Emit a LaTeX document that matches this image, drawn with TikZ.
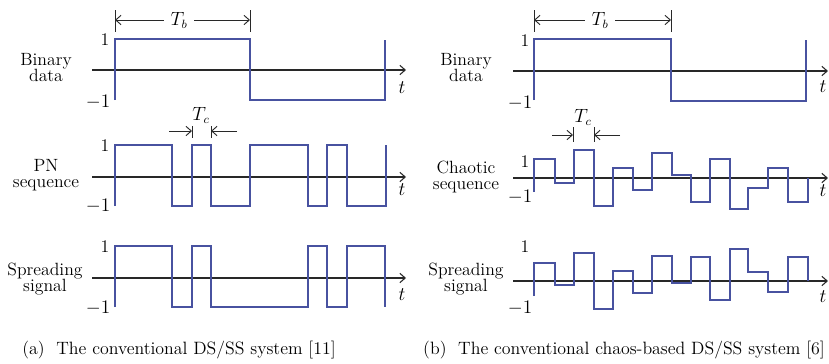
\documentclass[tikz,border=0pt]{standalone}
\usetikzlibrary{arrows.meta}
\definecolor{sigcol}{RGB}{72,82,160}
\definecolor{axcol}{RGB}{40,40,40}
\begin{document}
\begin{tikzpicture}[x=0.75pt,y=-0.75pt,
  axis/.style={draw=axcol,line width=0.8pt,-{Straight Barb[length=4pt,width=7pt]}},
  sig/.style={draw=sigcol,line width=0.9pt,line join=miter},
  dim/.style={draw=axcol,line width=0.7pt,-{Straight Barb[length=4pt,width=7pt]}},
  tickmark/.style={draw=axcol,line width=0.7pt},
  lab/.style={font=\fontsize{13.3}{12}\selectfont,align=center,inner sep=0pt},
  lvl/.style={font=\fontsize{13.3}{12}\selectfont,inner sep=0pt},
  tlab/.style={font=\fontsize{13.3}{12}\selectfont,inner sep=0pt},
  captxt/.style={font=\fontsize{13.4}{12}\selectfont,inner sep=0pt}]
\useasboundingbox (0,0) rectangle (829,364);

% ---------------- left panel ----------------
\coordinate (aL1s) at (92,70);  \coordinate (aL1e) at (406,70);
\coordinate (aL2s) at (92,177); \coordinate (aL2e) at (406,177);
\coordinate (aL3s) at (92,278); \coordinate (aL3e) at (406,278);
\draw[axis] (aL1s) -- (aL1e);
\draw[axis] (aL2s) -- (aL2e);
\draw[axis] (aL3s) -- (aL3e);
\node[tlab] (tL1) at (402,88) {$t$};
\node[tlab] (tL2) at (402,190) {$t$};
\node[tlab] (tL3) at (402,295) {$t$};

\node[lab] (bdL) at (46,68) {Binary\\data};
\node[lab] (pnL) at (46,175) {PN\\sequence};
\node[lab] (spL) at (45,279) {Spreading\\signal};

\node[lvl] (oneL1) at (105,40) {1};
\node[lvl] (mL1) at (98,102) {$-1$};
\node[lvl] (oneL2) at (105,146) {1};
\node[lvl] (mL2) at (98,206) {$-1$};
\node[lvl] (oneL3) at (105,247) {1};
\node[lvl] (mL3) at (98,308) {$-1$};

\draw[sig] (115,100) -- (115,39) -- (250,39) -- (250,100) -- (385,100) -- (385,40);
\draw[sig] (115,206) -- (115,145) -- (172,145) -- (172,206) -- (192,206) -- (192,145)
  -- (211,145) -- (211,206) -- (250,206) -- (250,145) -- (308,145) -- (308,206)
  -- (327,206) -- (327,145) -- (347,145) -- (347,206) -- (386,206) -- (386,145);
\draw[sig] (115,307) -- (115,246) -- (172,246) -- (172,307) -- (192,307) -- (192,246)
  -- (211,246) -- (211,307) -- (308,307) -- (308,246) -- (327,246) -- (327,307)
  -- (347,307) -- (347,246) -- (385,246) -- (385,307);

\coordinate (tbL1t) at (115,10); \coordinate (tbL1b) at (115,32);
\coordinate (tbL2t) at (250,10); \coordinate (tbL2b) at (250,32);
\draw[tickmark] (tbL1t) -- (tbL1b);
\draw[tickmark] (tbL2t) -- (tbL2b);
\node[tlab,inner xsep=5pt] (TbL) at (179,20) {$T_b$};
\coordinate (tbLa) at (115,20); \coordinate (tbLb) at (250,20);
\draw[dim] (TbL.west) -- (tbLa);
\draw[dim] (TbL.east) -- (tbLb);

\coordinate (tcL1t) at (192,126); \coordinate (tcL1b) at (192,138);
\coordinate (tcL2t) at (211,126); \coordinate (tcL2b) at (211,138);
\draw[tickmark] (tcL1t) -- (tcL1b);
\draw[tickmark] (tcL2t) -- (tcL2b);
\coordinate (tcLs1) at (169,131); \coordinate (tcLe1) at (192,131);
\coordinate (tcLs2) at (237,131); \coordinate (tcLe2) at (211,131);
\draw[dim] (tcLs1) -- (tcLe1);
\draw[dim] (tcLs2) -- (tcLe2);
\node[tlab] (TcL) at (201,115) {$T_c$};

\node[captxt] (capL) at (179,350) {(a)\ \ The conventional DS/SS system [11]};

% ---------------- right panel ----------------
\coordinate (aR1s) at (513,71);  \coordinate (aR1e) at (828,71);
\coordinate (aR2s) at (513,178); \coordinate (aR2e) at (828,178);
\coordinate (aR3s) at (513,281); \coordinate (aR3e) at (828,281);
\draw[axis] (aR1s) -- (aR1e);
\draw[axis] (aR2s) -- (aR2e);
\draw[axis] (aR3s) -- (aR3e);
\node[tlab] (tR1) at (823,87) {$t$};
\node[tlab] (tR2) at (823,191) {$t$};
\node[tlab] (tR3) at (823,297) {$t$};

\node[lab] (bdR) at (466,68) {Binary\\data};
\node[lab] (chR) at (466,177) {Chaotic\\sequence};
\node[lab] (spR) at (466,279) {Spreading\\signal};

\node[lvl] (oneR1) at (525,41) {1};
\node[lvl] (mR1) at (520,103) {$-1$};
\node[lvl] (oneR2) at (525,162) {1};
\node[lvl] (mR2) at (520,197) {$-1$};
\node[lvl] (oneR3) at (525,247) {1};
\node[lvl] (mR3) at (520,308) {$-1$};

\draw[sig] (534,100) -- (534,39) -- (671,39) -- (671,101) -- (806,101) -- (806,40);
\draw[sig] (534,192) -- (534,159) -- (555,159) -- (555,183) -- (574,183) -- (574,150)
  -- (594,150) -- (594,206) -- (613,206) -- (613,168) -- (633,168) -- (633,190)
  -- (652,190) -- (652,153) -- (672,153) -- (672,175) -- (691,175) -- (691,202)
  -- (710,202) -- (710,159) -- (730,159) -- (730,209) -- (748,209) -- (748,188)
  -- (768,188) -- (768,168) -- (788,168) -- (788,202) -- (808,202) -- (808,178);
\draw[sig] (534,296) -- (534,263) -- (555,263) -- (555,285) -- (574,285) -- (574,253)
  -- (594,253) -- (594,309) -- (613,309) -- (613,271) -- (633,271) -- (633,293)
  -- (652,293) -- (652,256) -- (672,256) -- (672,283) -- (691,283) -- (691,257)
  -- (710,257) -- (710,300) -- (730,300) -- (730,249) -- (748,249) -- (748,272)
  -- (768,272) -- (768,292) -- (788,292) -- (788,257) -- (808,257) -- (808,281);

\coordinate (tbR1t) at (534,10); \coordinate (tbR1b) at (534,32);
\coordinate (tbR2t) at (671,10); \coordinate (tbR2b) at (671,32);
\draw[tickmark] (tbR1t) -- (tbR1b);
\draw[tickmark] (tbR2t) -- (tbR2b);
\node[tlab,inner xsep=5pt] (TbR) at (600,20) {$T_b$};
\coordinate (tbRa) at (534,20); \coordinate (tbRb) at (671,20);
\draw[dim] (TbR.west) -- (tbRa);
\draw[dim] (TbR.east) -- (tbRb);

\coordinate (tcR1t) at (573,127); \coordinate (tcR1b) at (573,142);
\coordinate (tcR2t) at (594,127); \coordinate (tcR2b) at (594,142);
\draw[tickmark] (tcR1t) -- (tcR1b);
\draw[tickmark] (tcR2t) -- (tcR2b);
\coordinate (tcRs1) at (552,135); \coordinate (tcRe1) at (573,135);
\coordinate (tcRs2) at (620,135); \coordinate (tcRe2) at (594,135);
\draw[dim] (tcRs1) -- (tcRe1);
\draw[dim] (tcRs2) -- (tcRe2);
\node[tlab] (TcR) at (583,117) {$T_c$};

\node[captxt] (capR) at (624,350) {(b)\ \ The conventional chaos-based DS/SS system [6]};
\end{tikzpicture}
\end{document}
